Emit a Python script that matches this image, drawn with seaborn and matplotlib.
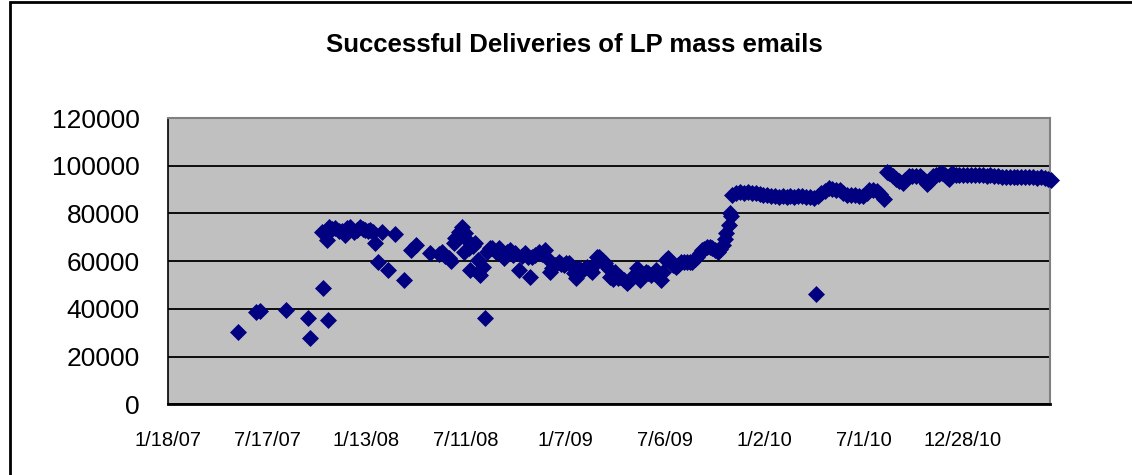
import pandas as pd
import numpy as np
import matplotlib
matplotlib.use('Agg')
import matplotlib.pyplot as plt
import matplotlib.dates as mdates
from matplotlib.patches import Rectangle
import seaborn as sns

# values: days after the first axis date and delivery counts
start_date = '2007-01-18'

days_since_start = [
    127, 161, 167, 214, 254, 258, 280, 282, 289, 291,
    293, 298, 304, 310, 316, 322, 325, 331, 337, 343,
    349, 354, 358, 363, 367, 372, 376, 382, 388, 400,
    412, 429, 440, 450, 475, 492, 497, 503, 509, 513,
    518, 521, 527, 533, 536, 539, 542, 545, 548, 553,
    557, 563, 566, 572, 574, 579, 583, 588, 594, 600,
    605, 609, 615, 621, 625, 630, 636, 641, 648, 652,
    657, 660, 666, 672, 678, 684, 687, 693, 697, 702,
    708, 712, 717, 722, 727, 736, 739, 743, 748, 754,
    760, 765, 769, 774, 777, 781, 787, 793, 797, 802,
    806, 811, 816, 820, 826, 832, 836, 841, 846, 850,
    856, 861, 866, 870, 875, 880, 884, 889, 893, 898,
    902, 907, 911, 916, 920, 925, 929, 935, 941, 946,
    950, 955, 959, 964, 968, 972, 977, 982, 986, 991,
    996, 1001, 1005, 1009, 1012, 1016, 1018, 1020, 1023, 1030,
    1037, 1044, 1051, 1058, 1065, 1072, 1079, 1086, 1093, 1100,
    1107, 1114, 1121, 1128, 1135, 1142, 1149, 1156, 1163, 1170,
    1174, 1177, 1184, 1191, 1197, 1203, 1210, 1217, 1224, 1231,
    1238, 1245, 1252, 1259, 1266, 1271, 1277, 1284, 1290, 1298,
    1302, 1307, 1313, 1319, 1325, 1331, 1336, 1342, 1348, 1355,
    1362, 1368, 1372, 1376, 1381, 1386, 1391, 1397, 1402, 1407,
    1411, 1415, 1420, 1427, 1434, 1441, 1448, 1455, 1462, 1469,
    1476, 1483, 1490, 1497, 1504, 1511, 1518, 1525, 1532, 1539,
    1546, 1553, 1560, 1567, 1574, 1581, 1588, 1594, 1600,
]

deliveries = [
    30200, 38600, 39000, 39500, 36000, 27700, 72400, 48600, 68900, 35300,
    74500, 73500, 73800, 72800, 72600, 71000, 73800, 74500, 72400, 73100,
    74500, 73300, 73100, 72600, 73100, 72300, 67500, 59800, 72400, 56300,
    71400, 52100, 64700, 66800, 63300, 63000, 64000, 62000, 61200, 60200,
    67500, 69600, 72400, 74500, 64000, 71700, 68900, 65400, 56300, 66500,
    67500, 60500, 54200, 57700, 36100, 64000, 65400, 65400, 64000, 65400,
    63000, 61200, 64000, 64700, 62500, 63300, 56300, 62000, 63300, 61900,
    53500, 61900, 62500, 64000, 62800, 64700, 61200, 55600, 57000, 58400,
    59800, 58800, 58400, 59100, 59100, 54900, 52800, 57000, 56300, 56800,
    57700, 56500, 55600, 59000, 61900, 61600, 60500, 59100, 57000, 53500,
    52500, 55600, 53000, 53500, 52000, 50700, 51800, 52800, 54500, 57000,
    52100, 54000, 55600, 55000, 54200, 55200, 56300, 54500, 52100, 55600,
    60500, 61200, 59800, 58600, 57700, 58500, 59800, 59500, 59800, 59600,
    59800, 60800, 61900, 63500, 64700, 65200, 66100, 65800, 65400, 64800,
    64000, 65000, 66800, 69500, 71700, 75000, 80100, 79000, 87800, 88700,
    88800, 88700, 88800, 88600, 88500, 88300, 87900, 87600, 87400, 87300,
    87100, 87400, 87000, 87300, 87000, 87500, 87200, 87000, 86800, 86400,
    46200, 87200, 88500, 89600, 90800, 90200, 89700, 89900, 88400, 87800,
    87600, 87700, 87500, 87400, 88500, 90000, 89800, 89500, 88000, 86000,
    97200, 96800, 95800, 94500, 93400, 92600, 94000, 95600, 95800, 95900,
    95600, 94600, 93500, 92300, 93800, 95600, 96300, 96700, 96900, 96200,
    95300, 94300, 97000, 96300, 96200, 96100, 96200, 96000, 96100, 96000,
    96100, 95900, 96000, 95800, 95500, 95400, 95300, 95400, 95200, 95300,
    95200, 95300, 95100, 95200, 95000, 95200, 94800, 94600, 94000,
]

tick_labels = ['1/18/07', '7/17/07', '1/13/08', '7/11/08', '1/7/09',
               '7/6/09', '1/2/10', '7/1/10', '12/28/10']
y_ticks = [0, 20000, 40000, 60000, 80000, 100000, 120000]
axis_end_days = 1598

start = pd.Timestamp(start_date)
df = pd.DataFrame({
    'date': start + pd.to_timedelta(days_since_start, unit='D'),
    'deliveries': deliveries,
})
tick_dates = pd.to_datetime(tick_labels, format='%m/%d/%y')

sns.set_style('white')
plt.rcParams['font.family'] = ['Liberation Sans', 'DejaVu Sans']
plt.rcParams['text.color'] = 'black'
plt.rcParams['xtick.color'] = 'black'
plt.rcParams['ytick.color'] = 'black'

fig = plt.figure(figsize=(11.32, 4.75), dpi=100)
ax = fig.add_axes([0.148, 0.1488, 0.7796, 0.6027])
ax.set_facecolor('#C0C0C0')

sns.scatterplot(data=df, x='date', y='deliveries', marker='D', color='#000080',
                s=75, linewidth=0, ax=ax, clip_on=False, zorder=3)

ax.set_xlim(start, start + pd.Timedelta(days=axis_end_days))
ax.set_ylim(0, 120000)
ax.set_xticks(tick_dates)
ax.set_xticklabels(tick_labels)
ax.set_yticks(y_ticks)
ax.set_yticklabels([str(v) for v in y_ticks])
ax.set_xlabel('')
ax.set_ylabel('')

ax.yaxis.grid(True, color='black', linewidth=1.3)
ax.xaxis.grid(False)
ax.set_axisbelow(True)

for side in ['top', 'right']:
    ax.spines[side].set_color('#808080')
    ax.spines[side].set_linewidth(1.5)
ax.spines['left'].set_color('black')
ax.spines['left'].set_linewidth(1.2)
ax.spines['bottom'].set_color('black')
ax.spines['bottom'].set_linewidth(2)

ax.tick_params(axis='both', direction='out', length=7, width=1.2,
               color='black', labelcolor='black')
ax.tick_params(axis='y', labelsize=19, pad=13)
ax.tick_params(axis='x', labelsize=14.5, pad=12)

fig.text(0.507, 0.905, 'Successful Deliveries of LP mass emails',
         ha='center', va='center', fontsize=18.5, fontweight='bold',
         color='black')

fig.patches.append(Rectangle((10 / 1132, -0.1), 1.2, 1.1 - 2 / 475,
                             transform=fig.transFigure, fill=False,
                             edgecolor='black', linewidth=2))

fig.savefig('out.png', dpi=100)
plt.close(fig)
